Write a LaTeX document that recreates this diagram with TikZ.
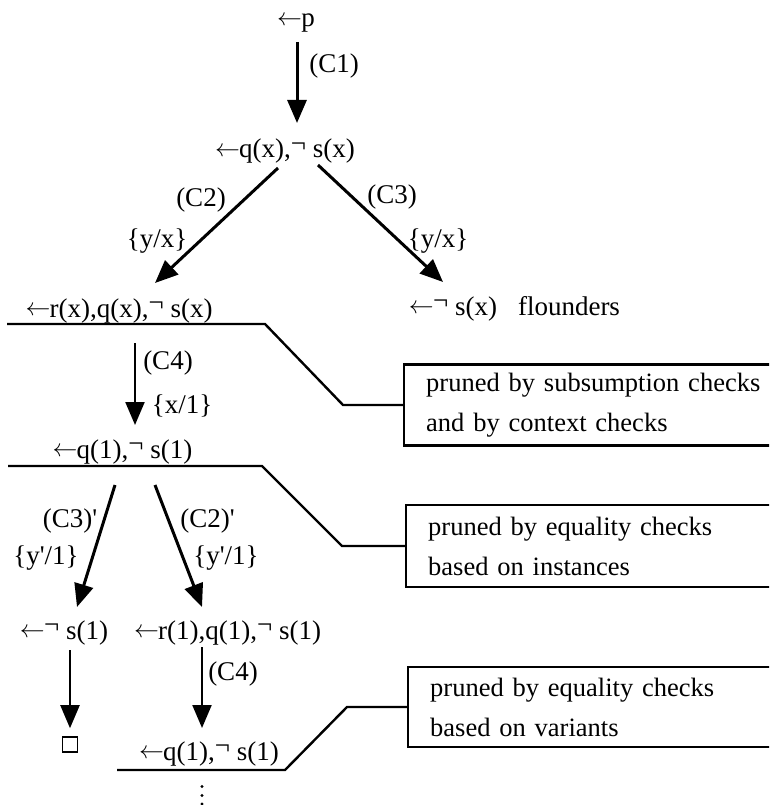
\documentclass[tikz,border=0pt]{standalone}
\usepackage{fontspec}
\setmainfont{Liberation Serif}
\usetikzlibrary{arrows.meta}
\newcommand{\lneg}{\raisebox{0.2em}{¬}}
\newcommand{\larr}{\raisebox{0.05em}{$\leftarrow$}\kern-0.03em}
\begin{document}
\begin{tikzpicture}[x=1pt,y=-1pt,
  every node/.style={inner sep=0pt, font=\fontsize{27}{32}\selectfont},
  txt/.style={anchor=base},
  arr/.style={line width=3pt, -{Triangle[length=23pt,width=19pt]}},
  arrthin/.style={line width=2.2pt, -{Triangle[length=23pt,width=19pt]}},
  brk/.style={line width=2.4pt, line join=miter},
  prunebox/.style={draw, line width=2.4pt, anchor=west, minimum height=#1,
    text width=345pt, inner xsep=22pt, inner ysep=0pt, align=left,
    font=\fontsize{26.5}{40}\selectfont}]
\clip (0,0) rectangle (769,805);

% goal nodes
\node[txt] (n1) at (296,27) {\larr p};
\node[txt] (n2) at (285,158) {\larr q(x),\lneg{} s(x)};
\node[txt] (n3) at (119,317) {\larr r(x),q(x),\lneg{} s(x)};
\node[txt] (n4) at (453,315) {\larr\lneg{} s(x)};
\node[txt] (n4b) at (569,315) {flounders};
\node[txt] (n5) at (122.5,458) {\larr q(1),\lneg{} s(1)};
\node[txt] (n6) at (64,639) {\larr\lneg{} s(1)};
\node[txt] (n7) at (227.5,639) {\larr r(1),q(1),\lneg{} s(1)};
\node[draw, line width=1.6pt, minimum size=15pt] (n8) at (70,744.5) {};
\node[txt] (n9) at (209,760) {\larr q(1),\lneg{} s(1)};

% continuation dots
\fill (202,786.5) circle (1.6pt) (202,795.5) circle (1.6pt) (202,804) circle (1.6pt);

% edge labels
\node[txt] (l1) at (334,73) {(C1)};
\node[txt] (l2) at (201,206) {(C2)};
\node[txt] (l2b) at (157,247) {\{y/x\}};
\node[txt] (l3) at (392,204) {(C3)};
\node[txt] (l3b) at (438,247) {\{y/x\}};
\node[txt] (l4) at (168,369) {(C4)};
\node[txt] (l4b) at (182,413) {\{x/1\}};
\node[txt] (l5) at (70,527) {(C3)\textquotesingle};
\node[txt] (l5b) at (46,564) {\{y\textquotesingle/1\}};
\node[txt] (l6) at (207.5,527) {(C2)\textquotesingle};
\node[txt] (l6b) at (226,564) {\{y\textquotesingle/1\}};
\node[txt] (l7) at (233,680) {(C4)};

% arrows
\draw[arr] ([shift={(1,15)}]n1.base) -- ([shift={(12,-35)}]n2.base);
\draw[arr] ([shift={(-7,10)}]n2.base) -- ([shift={(36,-34)}]n3.base);
\draw[arr] ([shift={(33,7)}]n2.base) -- ([shift={(-10,-33)}]n4.base);
\draw[arrthin] ([shift={(16,26)}]n3.base) -- ([shift={(12.5,-33)}]n5.base);
\draw[arr] ([shift={(-7.5,27)}]n5.base) -- ([shift={(13,-32)}]n6.base);
\draw[arr] ([shift={(32.5,27)}]n5.base) -- ([shift={(-25.5,-32)}]n7.base);
\draw[arrthin] ([shift={(6,11)}]n6.base) -- ([shift={(0,-8)}]n8.north);
\draw[arrthin] ([shift={(-25.5,8)}]n7.base) -- ([shift={(-7,-32)}]n9.base);

% pruning boxes
\node[prunebox=81pt] (b1) at (403,405) {pruned by subsumption checks\\and by context checks};
\node[prunebox=82pt] (b2) at (405,546) {pruned by equality checks\\based on instances};
\node[prunebox=80pt] (b3) at (407,707) {pruned by equality checks\\based on variants};

% bracket lines
\coordinate (s1) at (7,324);
\coordinate (s2) at (8,466);
\coordinate (s3) at (117,770);
\draw[brk] (s1) -- (265,324) -- (343,405) -- (b1.west);
\draw[brk] (s2) -- (262,466) -- (342,546) -- (b2.west);
\draw[brk] (s3) -- (285,770) -- (347,707) -- (b3.west);
\end{tikzpicture}
\end{document}
